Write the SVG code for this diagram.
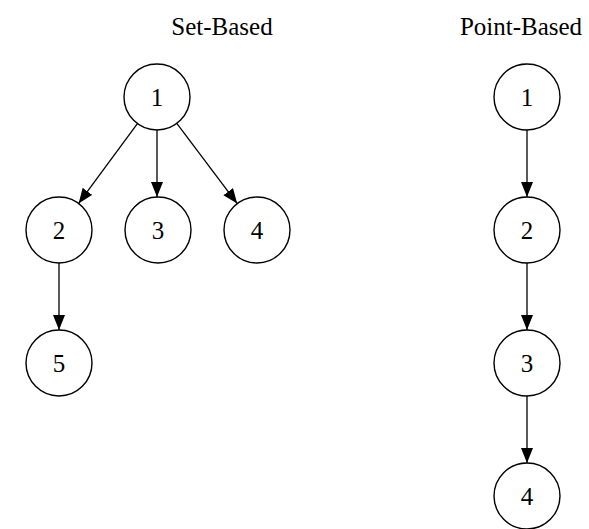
<svg xmlns="http://www.w3.org/2000/svg" width="589" height="529" viewBox="0 0 589 529">
<style>
.n circle{fill:#fff;stroke:#000;stroke-width:1.4}
.n text,.t{font-family:"Liberation Serif","Times New Roman",serif;fill:#000;text-anchor:middle}
.n text{font-size:25px}
.t{font-size:25px}
.e{stroke:#000;stroke-width:1.3;fill:none;marker-end:url(#ah)}
</style>
<defs>
<marker id="ah" markerUnits="userSpaceOnUse" markerWidth="16" markerHeight="13" refX="15" refY="6" orient="auto">
<path d="M0,0 L15,6 L0,12 z" fill="#000"/>
</marker>
</defs>
<rect width="589" height="529" fill="#fff"/>
<text class="t" x="222" y="35">Set-Based</text>
<text class="t" x="521" y="35">Point-Based</text>
<g id="edges">
<line class="e" x1="137.4" y1="123.6" x2="78.6" y2="203.4"/>
<line class="e" x1="157" y1="130" x2="157" y2="197"/>
<line class="e" x1="176.8" y1="123.4" x2="237.2" y2="203.6"/>
<line class="e" x1="59" y1="263" x2="59" y2="330"/>
<line class="e" x1="527" y1="130" x2="527" y2="197"/>
<line class="e" x1="527" y1="263" x2="527" y2="330"/>
<line class="e" x1="527" y1="396" x2="527" y2="463"/>
</g>
<g id="s1" class="n"><circle cx="157" cy="97" r="33"/><text x="157" y="106">1</text></g>
<g id="s2" class="n"><circle cx="59" cy="230" r="33"/><text x="59" y="239">2</text></g>
<g id="s3" class="n"><circle cx="158" cy="230" r="33"/><text x="158" y="239">3</text></g>
<g id="s4" class="n"><circle cx="257" cy="230" r="33"/><text x="257" y="239">4</text></g>
<g id="s5" class="n"><circle cx="59" cy="363" r="33"/><text x="59" y="372">5</text></g>
<g id="p1" class="n"><circle cx="527" cy="97" r="33"/><text x="527" y="106">1</text></g>
<g id="p2" class="n"><circle cx="527" cy="230" r="33"/><text x="527" y="239">2</text></g>
<g id="p3" class="n"><circle cx="527" cy="363" r="33"/><text x="527" y="372">3</text></g>
<g id="p4" class="n"><circle cx="527" cy="496" r="33"/><text x="527" y="505">4</text></g>
</svg>
